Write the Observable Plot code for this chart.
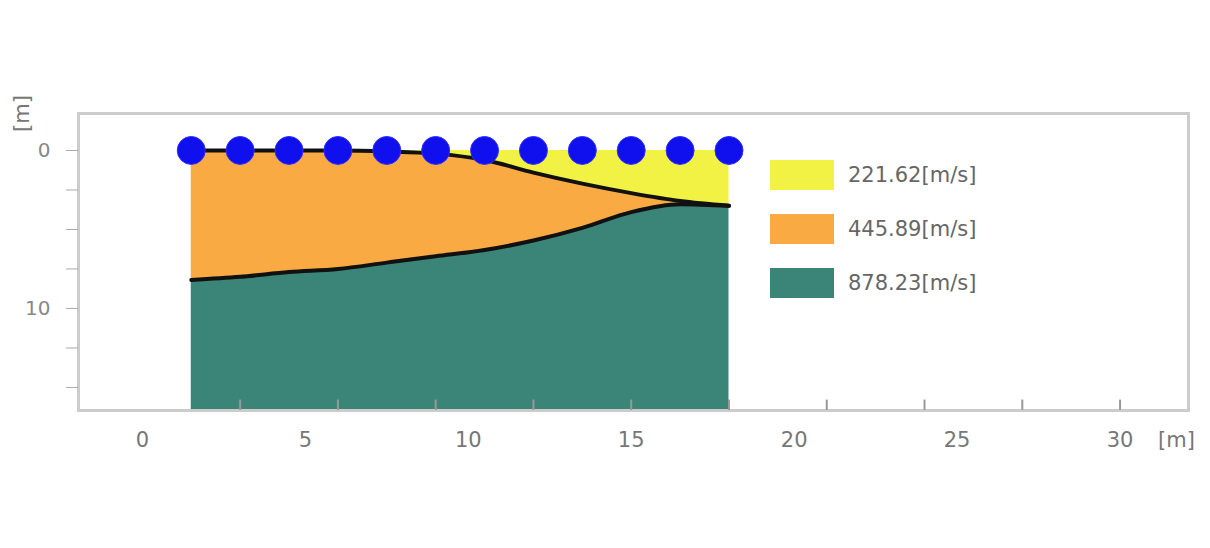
<!DOCTYPE html>
<html><head><meta charset="utf-8">
<script src="https://cdn.jsdelivr.net/npm/d3@7"></script>
<script src="https://cdn.jsdelivr.net/npm/@observablehq/plot@0.6"></script>
<style>
body{margin:0;background:#fff;font-family:"DejaVu Sans",sans-serif;}
#wrap{position:relative;width:1210px;height:548px;}
#legend{position:absolute;left:770px;top:148px;}
.row{display:flex;align-items:center;height:54px;}
.sw{width:64px;height:30px;margin-right:14px;}
.lb{font-size:21px;color:#666;}
</style></head><body>
<div id="wrap"><div id="chart"></div><div id="legend"></div></div>
<script>
const distance = [1.5,3,4.5,6,7.5,9,10.5,12,13.5,15,16.5,18];
const boundary1 = [0,0,0,0,0.06,0.2,0.6,1.4,2.1,2.7,3.2,3.5];
const boundary2 = [8.2,8.0,7.7,7.5,7.1,6.7,6.3,5.7,4.9,3.9,3.4,3.5];
const bottomDepth = 16.46;
const layerNames = ["221.62[m/s]","445.89[m/s]","878.23[m/s]"];
const layerColors = ["#f2f244","#f9aa42","#3b8578"];
const xTicks = [0,5,10,15,20,25,30];
const xMinor = [3,6,9,12,15,18,21,24,27,30];
const yTicks = [0,2.5,5,7.5,10,12.5,15];
const yLabels = [0,10];

const data = distance.map((d,i)=>({x:d,b1:boundary1[i],b2:boundary2[i],bot:bottomDepth}));
const curve = "monotone-x";
const chart = Plot.plot({
  width:1210, height:548,
  marginTop:113, marginBottom:138, marginLeft:78, marginRight:22,
  x:{domain:[-1.96,32.1]},
  y:{domain:[-2.34,16.46], reverse:true},
  style:{fontFamily:"DejaVu Sans", background:"#fff"},
  marks:[
    Plot.areaY(data,{x:"x",y1:0,y2:"b1",fill:layerColors[0],curve}),
    Plot.areaY(data,{x:"x",y1:"b1",y2:"b2",fill:layerColors[1],curve}),
    Plot.areaY(data,{x:"x",y1:"b2",y2:"bot",fill:layerColors[2],curve}),
    Plot.line(data,{x:"x",y:"b1",stroke:"#111",strokeWidth:4,curve}),
    Plot.line(data,{x:"x",y:"b2",stroke:"#111",strokeWidth:4,curve}),
    Plot.dot(data,{x:"x",y:0,r:14,fill:"#1010ee",stroke:"#3030ff",strokeWidth:1}),
    Plot.frame({stroke:"#ccc",strokeWidth:3}),
    Plot.ruleX(xMinor,{x:d=>d,y1:15.8,y2:16.46,stroke:"#999",strokeWidth:2}),
    Plot.axisX(xTicks,{tickSize:0,tickPadding:22,fontSize:21,fill:"#777",label:null,tickFormat:d=>d}),
    Plot.axisY(yTicks,{tickSize:12,tickPadding:0,stroke:"#aaa",label:null,tickFormat:()=>""}),
    Plot.axisY(yLabels,{tickSize:0,tickPadding:28,fontSize:20,fill:"#888",label:null}),
    Plot.text(["[m]"],{x:32.1,y:16.46,dx:-12,dy:30,fontSize:21,fill:"#777",textAnchor:"middle"}),
    Plot.text(["[m]"],{x:-1.96,y:-2.34,dx:-56,dy:0,fontSize:21,fill:"#777",rotate:-90,textAnchor:"middle"})
  ]
});
document.getElementById("chart").appendChild(chart);
const lg=document.getElementById("legend");
layerNames.forEach((n,i)=>{
  const r=document.createElement("div");r.className="row";
  r.innerHTML=`<div class="sw" style="background:${layerColors[i]}"></div><div class="lb">${n}</div>`;
  lg.appendChild(r);
});
</script></body></html>
